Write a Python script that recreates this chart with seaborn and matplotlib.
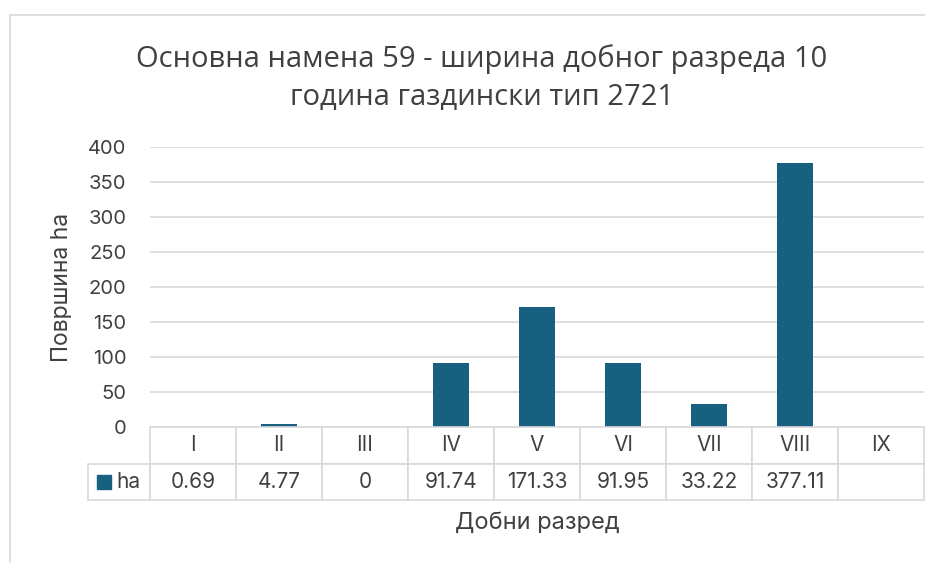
import matplotlib
matplotlib.use("Agg")
import matplotlib.pyplot as plt
import seaborn as sns
import pandas as pd
import numpy as np
from matplotlib.patches import Rectangle

# ----------------------------
# Data
# ----------------------------

classes = ["I", "II", "III", "IV", "V", "VI", "VII", "VIII", "IX"]
area_ha = [0.69, 4.77, 0, 91.74, 171.33, 91.95, 33.22, 377.11, np.nan]
table_values = ["0.69", "4.77", "0", "91.74", "171.33", "91.95", "33.22", "377.11", ""]
y_ticks = [0, 50, 100, 150, 200, 250, 300, 350, 400]

title = "Основна намена 59 - ширина добног разреда 10\nгодина газдински тип 2721"
series_name = "ha"
x_label = "Добни разред"
y_label = "Површина ha"

bar_color = "#17607f"
grid_color = "#d9d9d9"
text_color = "#404040"

df = pd.DataFrame({"class": classes, "ha": area_ha})

sns.set_style("white")
plt.rcParams["font.family"] = ["Inter", "DejaVu Sans"]

W, H = 925, 563
fig = plt.figure(figsize=(W / 100, H / 100), dpi=100)

# chart-area border (Excel style)
fig.patches.append(Rectangle((10 / W, -0.1), 1.2, 1.1 - 15 / H, transform=fig.transFigure,
                             fill=False, edgecolor="#d9d9d9", linewidth=1.2))

# ----------------------------
# Bars
# ----------------------------

ax = fig.add_axes([150 / W, 1 - 427 / H, 774 / W, 280 / H])

sns.barplot(
    data=df,
    x="class",
    y="ha",
    order=classes,
    color=bar_color,
    width=0.42,
    saturation=1,
    linewidth=0,
    ax=ax
)

ax.set_ylim(0, 400)
ax.set_xlim(-0.5, len(classes) - 0.5)
ax.set_yticks(y_ticks)
ax.set_yticklabels([str(t) for t in y_ticks], fontsize=14.5, color=text_color)
ax.tick_params(axis="y", length=0, pad=17)
ax.set_xticks([])
ax.set_xlabel("")
ax.set_ylabel(y_label, fontsize=16.5, color=text_color)
ax.yaxis.set_label_coords(-77 / 774, 0.5)
ax.grid(axis="y", color=grid_color, linewidth=1.2)
ax.set_axisbelow(True)
for s in ax.spines.values():
    s.set_visible(False)

fig.text(482 / W, 1 - 78 / H, title, ha="center", va="center", fontsize=21,
         color=text_color, linespacing=1.4,
         family=["Open Sans", "DejaVu Sans"])

# ----------------------------
# Data table
# ----------------------------

tax = fig.add_axes([88 / W, 1 - 500 / H, 836 / W, 73 / H])
tax.axis("off")

col_w = [62 / 836] + [86 / 836] * len(classes)
tbl = tax.table(
    cellText=[[""] + classes, [""] + table_values],
    colWidths=col_w,
    cellLoc="center",
    bbox=[0, 0, 1, 1]
)
tbl.auto_set_font_size(False)
for (r, c), cell in tbl.get_celld().items():
    cell.set_edgecolor(grid_color)
    cell.set_linewidth(1.2)
    cell.get_text().set_fontsize(15)
    cell.get_text().set_color(text_color)
    if r == 0 and c == 0:
        cell.visible_edges = ""

leg_cell = tbl[1, 0]
leg_cell.get_text().set_text(series_name)
leg_cell.get_text().set_ha("left")
leg_cell._loc = "left"
leg_cell.PAD = 0.45

tax.add_patch(Rectangle((9 / 836, 0.25 - 7 / 73), 14 / 836, 14 / 73,
                        transform=tax.transAxes, color=bar_color, clip_on=False))

fig.text(537 / W, 1 - 523 / H, x_label, ha="center", va="center",
         fontsize=17, color=text_color)

fig.savefig("out.png", dpi=100)
